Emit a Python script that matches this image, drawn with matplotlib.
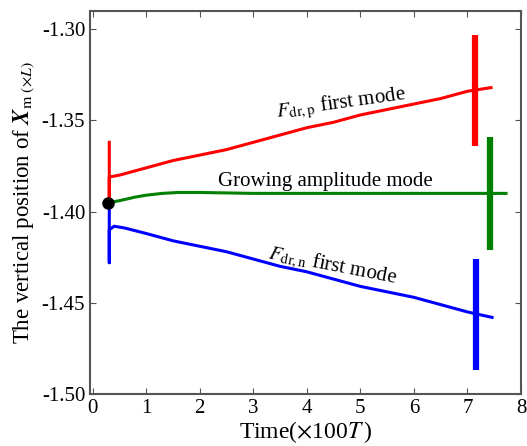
import numpy as np
import matplotlib.pyplot as plt

plt.rcParams['font.family'] = ['Liberation Serif', 'DejaVu Serif']
plt.rcParams['mathtext.fontset'] = 'stix'

# red: F_dr,p first mode
red_t = [0.31, 0.31, 0.31, 0.5, 1.0, 1.5, 2.0, 2.5, 3.0, 3.5, 4.0, 4.5, 5.0, 5.5, 6.0, 6.5, 7.0, 7.44]
red_x = [-1.362, -1.395, -1.381, -1.380, -1.376, -1.372, -1.369, -1.366, -1.362, -1.358, -1.354, -1.351, -1.347, -1.344, -1.341, -1.338, -1.334, -1.332]
# green: growing amplitude mode
grn_t = [0.31, 0.5, 0.8, 1.0, 1.3, 1.6, 2.0, 3.0, 4.0, 5.0, 6.0, 7.0, 7.72]
grn_x = [-1.395, -1.394, -1.392, -1.391, -1.390, -1.3895, -1.3895, -1.390, -1.390, -1.390, -1.390, -1.390, -1.390]
# blue: F_dr,n first mode
blu_t = [0.31, 0.31, 0.31, 0.4, 0.6, 1.0, 1.5, 2.0, 2.5, 3.0, 3.5, 4.0, 4.5, 5.0, 5.5, 6.0, 6.5, 7.0, 7.46]
blu_x = [-1.395, -1.428, -1.410, -1.408, -1.409, -1.412, -1.416, -1.419, -1.422, -1.426, -1.430, -1.433, -1.437, -1.441, -1.444, -1.447, -1.451, -1.455, -1.458]

# vertical bars at the end of each run
bar_t = [7.14, 7.42, 7.16]
bar_lo = [-1.364, -1.421, -1.487]
bar_hi = [-1.303, -1.359, -1.426]
colors = ['#ff0000', '#008000', '#0000ff']

fig = plt.figure(figsize=(5.27, 4.46), dpi=100)
ax = fig.add_axes([90/527, 52/446, 431/527, 383/446])

ax.plot(red_t, red_x, color=colors[0], lw=2.2)
ax.plot(grn_t, grn_x, color=colors[1], lw=2.2)
ax.plot(blu_t, blu_x, color=colors[2], lw=2.2)
for t, lo, hi, c in zip(bar_t, bar_lo, bar_hi, colors):
    ax.plot([t, t], [lo, hi], color=c, lw=4.5, solid_capstyle='butt')
ax.plot([0.28], [-1.395], 'o', color='black', ms=8, zorder=5)

ax.text(4.64, -1.3407, r'$F_{\rm dr,p}$ first mode', fontsize=15, rotation=8,
        ha='center', va='center')
ax.text(4.35, -1.3885, 'Growing amplitude mode', fontsize=15, ha='center', va='bottom')
ax.text(4.47, -1.4297, r'$F_{\rm dr,n}$ first mode', fontsize=15, rotation=-11,
        ha='center', va='center')

ax.set_xlim(-0.05, 8)
ax.set_ylim(-1.5, -1.29)
ax.set_xticks(range(0, 9))
ax.set_yticks([-1.30, -1.35, -1.40, -1.45, -1.50])
ax.set_yticklabels(['-1.30', '-1.35', '-1.40', '-1.45', '-1.50'])
ax.tick_params(direction='in', top=True, right=True, labelsize=15, length=4, color='#555555')
for s in ax.spines.values():
    s.set_color('#555555')
    s.set_linewidth(1.5)

ax.set_xlabel(r'Time($\times$100$T\,$)', fontsize=17, labelpad=1)
ax.set_ylabel(r'The vertical position of $\boldsymbol{X}_{\rm m}$$\,_{(\times L)}$', fontsize=16.5, labelpad=4)

fig.savefig('out.png', dpi=100)
